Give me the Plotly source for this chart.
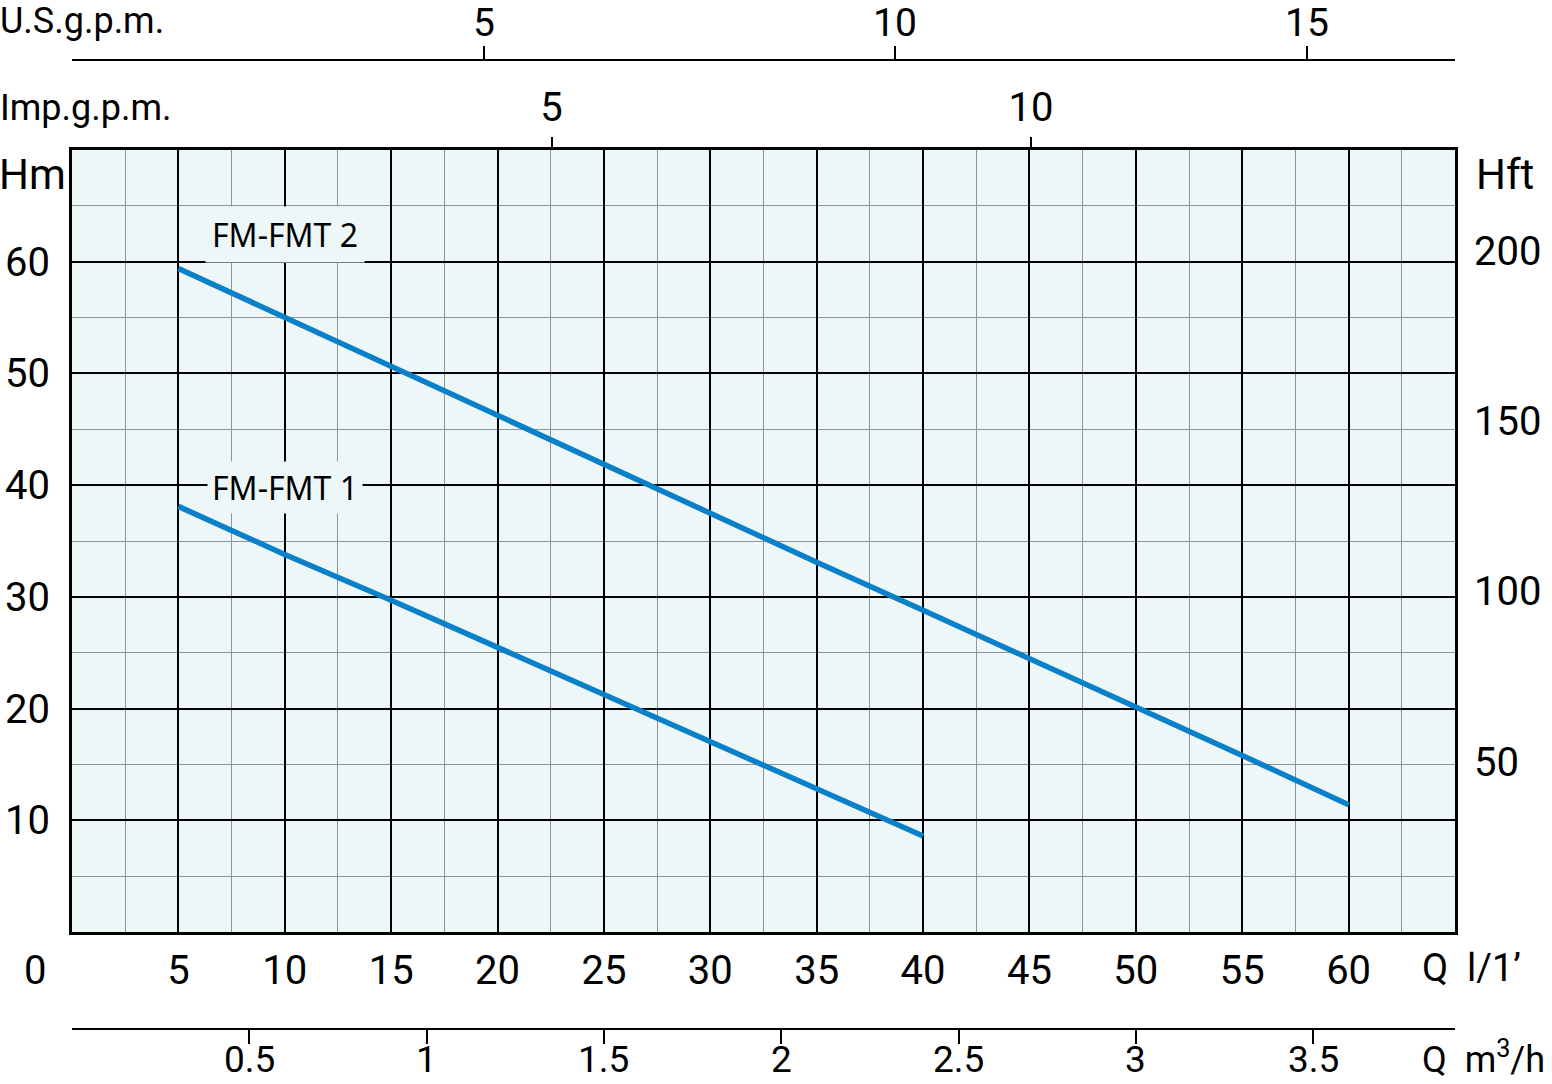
import plotly.graph_objects as go

# ---- data ----
q_lmin_fmt2 = [5, 10, 15, 20, 25, 30, 35, 40, 45, 50, 55, 60]
h_fmt2 = [59.4, 55.0, 50.6, 46.2, 41.8, 37.5, 33.1, 28.8, 24.5, 20.1, 15.8, 11.4]
q_lmin_fmt1 = [5, 10, 15, 20, 25, 30, 35, 40]
h_fmt1 = [38.1, 33.8, 29.7, 25.5, 21.2, 17.0, 12.8, 8.6]

lmin_ticks = [5, 10, 15, 20, 25, 30, 35, 40, 45, 50, 55, 60]
lmin_minor = [2.5, 7.5, 12.5, 17.5, 22.5, 27.5, 32.5, 37.5, 42.5, 47.5, 52.5, 57.5, 62.5]
hm_ticks = [10, 20, 30, 40, 50, 60]
hm_minor = [5, 15, 25, 35, 45, 55, 65]
hft_ticks = [50, 100, 150, 200]
m3h_ticks = [0.5, 1, 1.5, 2, 2.5, 3, 3.5]
m3h_labels = ["0.5", "1", "1.5", "2", "2.5", "3", "3.5"]
imp_ticks = [5, 10]
us_ticks = [5, 10, 15]
us_labels = ["5", "10", "15"]

Q_MAX = 65          # l/min
H_MAX = 70          # m
FT_PER_M = 3.2808
M3H_PER_LMIN = 0.06
IMP_MAX = 14.42     # as drawn on the chart
US_MAX = 16.8       # as drawn on the chart

W, H = 1552, 1084
px0, px1 = 72, 1455
py0, py1 = 150, 932

FONT = "Roboto, Liberation Sans, sans-serif"
LBL = "Noto Sans, Open Sans, sans-serif"
BLUE = "#0a80c8"
BG = "#eef7f8"

def fx(p):
    return p / W

def fy(p):
    return 1 - p / H

fig = go.Figure()
fig.add_trace(go.Scatter(x=q_lmin_fmt2, y=h_fmt2, mode="lines",
                         line=dict(color=BLUE, width=5.5), showlegend=False))
fig.add_trace(go.Scatter(x=q_lmin_fmt1, y=h_fmt1, mode="lines",
                         line=dict(color=BLUE, width=5.5), showlegend=False))
# dummy traces for secondary axes
fig.add_trace(go.Scatter(x=[None], y=[None], xaxis="x2", yaxis="y", showlegend=False))
fig.add_trace(go.Scatter(x=[None], y=[None], xaxis="x3", yaxis="y", showlegend=False))
fig.add_trace(go.Scatter(x=[None], y=[None], xaxis="x4", yaxis="y", showlegend=False))
fig.add_trace(go.Scatter(x=[None], y=[None], xaxis="x", yaxis="y2", showlegend=False))

tickfont = dict(family=FONT, size=40, color="black")

fig.update_layout(
    width=W, height=H,
    margin=dict(l=0, r=0, t=0, b=0, autoexpand=False),
    paper_bgcolor="white",
    plot_bgcolor=BG,
    xaxis=dict(
        domain=[fx(px0), fx(px1)], range=[0, Q_MAX], automargin=False,
        tickmode="array", tickvals=lmin_ticks, ticks="",
        showgrid=True, gridcolor="black", gridwidth=2,
        minor=dict(tickmode="array", tickvals=lmin_minor, showgrid=True,
                   gridcolor="#8c9494", gridwidth=1, ticks=""),
        showline=True, linecolor="black", linewidth=3, mirror=True,
        tickfont=tickfont, ticklabelstandoff=1, zeroline=False,
    ),
    yaxis=dict(
        domain=[fy(py1), fy(py0)], range=[0, H_MAX], automargin=False,
        tickmode="array", tickvals=hm_ticks, ticks="",
        showgrid=True, gridcolor="black", gridwidth=2,
        minor=dict(tickmode="array", tickvals=hm_minor, showgrid=True,
                   gridcolor="#8c9494", gridwidth=1, ticks=""),
        showline=True, linecolor="black", linewidth=3, mirror=True,
        tickfont=tickfont, ticklabelstandoff=11, zeroline=False,
    ),
    yaxis2=dict(
        overlaying="y", side="right", range=[0, H_MAX * FT_PER_M], automargin=False,
        tickmode="array", tickvals=hft_ticks, ticks="",
        showgrid=False, zeroline=False, showline=False,
        tickfont=tickfont, ticklabelstandoff=18,
    ),
    xaxis2=dict(  # Imp. g.p.m. on top of plot
        overlaying="x", side="top", anchor="y", range=[0, IMP_MAX], automargin=False,
        tickmode="array", tickvals=imp_ticks, ticks="outside", ticklen=12,
        tickwidth=1.5, tickcolor="black",
        showgrid=False, zeroline=False, showline=False,
        tickfont=tickfont, ticklabelstandoff=0,
    ),
    xaxis3=dict(  # U.S. g.p.m. (labels as annotations on this axis)
        overlaying="x", side="top", anchor="free", position=fy(60), automargin=False,
        range=[0, US_MAX],
        tickmode="array", tickvals=us_ticks, showticklabels=False,
        ticks="outside", ticklen=13, tickwidth=1.5, tickcolor="black",
        showgrid=False, zeroline=False, showline=True, linecolor="black",
        linewidth=2,
    ),
    xaxis4=dict(  # m3/h (labels as annotations on this axis)
        overlaying="x", side="bottom", anchor="free", position=fy(1029), automargin=False,
        range=[0, Q_MAX * M3H_PER_LMIN],
        tickmode="array", tickvals=m3h_ticks, showticklabels=False,
        ticks="outside", ticklen=14, tickwidth=1.5, tickcolor="black",
        showgrid=False, zeroline=False, showline=True, linecolor="black",
        linewidth=2,
    ),
)

ann = []
def txt(x, y, s, xanchor="left", size=40, family=FONT, xref="paper", yref="paper", **kw):
    ann.append(dict(x=x, y=y, xref=xref, yref=yref, text=s, showarrow=False,
                    xanchor=xanchor, yanchor="middle",
                    font=dict(family=family, size=size, color="black"), **kw))

txt(fx(-2), fy(21), "U.S.g.p.m.", size=36)
txt(fx(-2), fy(108), "Imp.g.p.m.", size=36)
txt(fx(-3), fy(175), "Hm", size=42)
txt(fx(1474), fy(175), "Hft", size=42)
txt(fx(35), fy(970), "0", xanchor="center")
txt(fx(1420), fy(968), "Q  l/1’", size=38)
txt(fx(1420), fy(1057), "Q  m<sup>3</sup>/h", size=36)
for v, lab in zip(us_ticks, us_labels):
    txt(v, fy(23), lab, xanchor="center", xref="x3", size=39)
for v, lab in zip(m3h_ticks, m3h_labels):
    txt(v, fy(1059), lab, xanchor="center", xref="x4", size=37)

# curve labels
ann.append(dict(x=10, y=62.4, xref="x", yref="y", text="FM-FMT 2", showarrow=False,
                xanchor="center", yanchor="middle", bgcolor=BG, borderpad=6,
                font=dict(family=LBL, size=32, color="black")))
ann.append(dict(x=10, y=39.8, xref="x", yref="y", text="FM-FMT 1", showarrow=False,
                xanchor="center", yanchor="middle", bgcolor=BG, borderpad=4,
                font=dict(family=LBL, size=32, color="black")))
fig.update_layout(annotations=ann)

fig.write_html("out.html", config={"displayModeBar": False},
               post_script="document.body.style.margin='0';document.body.style.overflow='hidden';")
